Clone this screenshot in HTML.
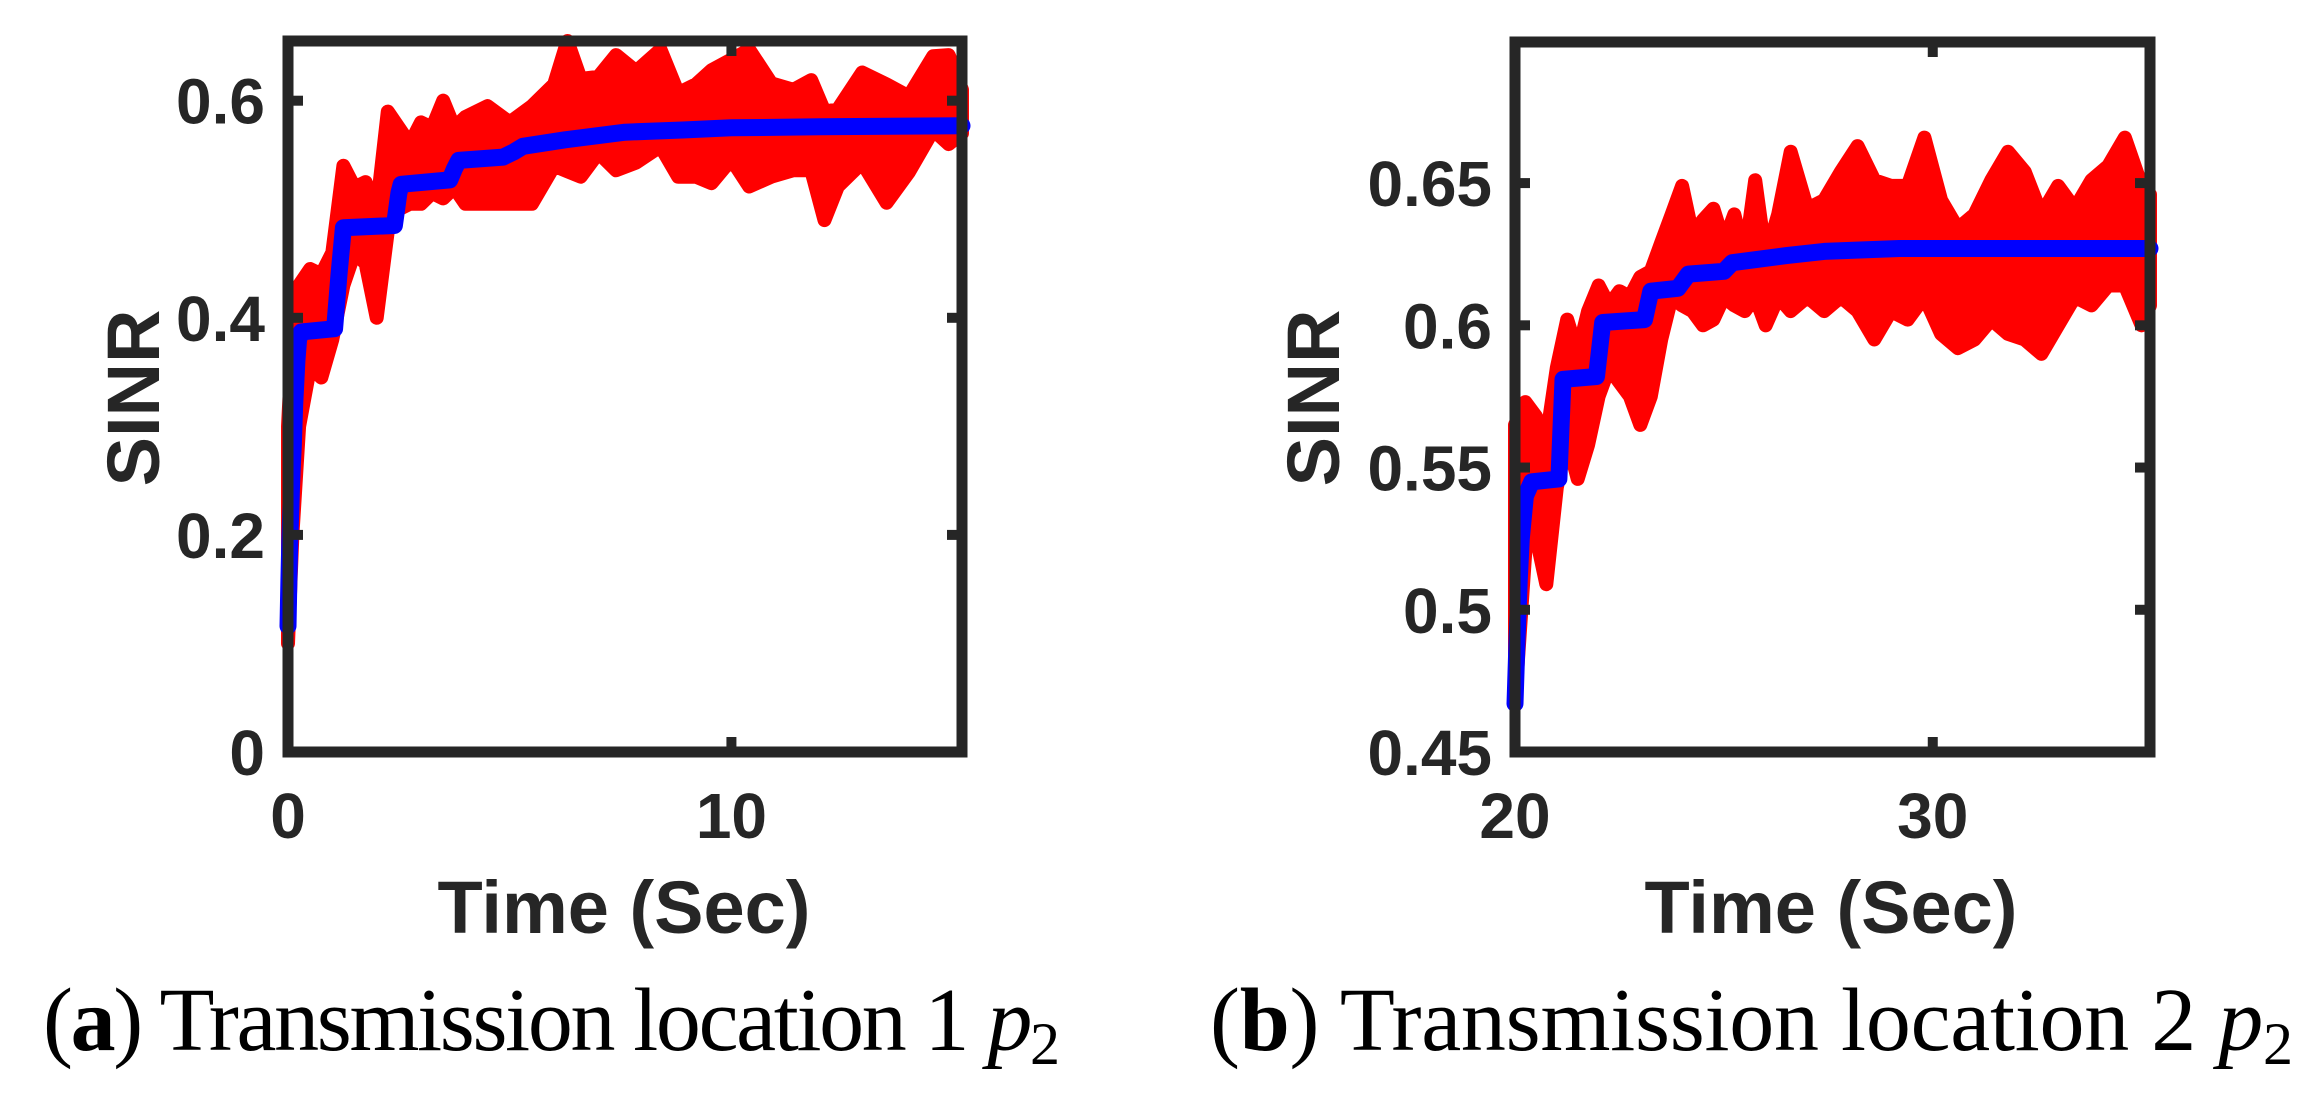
<!DOCTYPE html>
<html><head><meta charset="utf-8"><title>SINR over time</title>
<style>
html,body{margin:0;padding:0;background:#fff;}
svg{display:block;}
.tick{font-family:"Liberation Sans",sans-serif;font-weight:bold;font-size:64px;fill:#262626;}
.atitle{font-family:"Liberation Sans",sans-serif;font-weight:bold;font-size:74px;fill:#262626;}
.cap{font-family:"Liberation Serif",serif;font-size:90px;fill:#000;}
</style></head>
<body>
<svg id="fig" width="2320" height="1102" viewBox="0 0 2320 1102" xmlns="http://www.w3.org/2000/svg">
<g id="pa"></g>
<g id="pb"></g>
<text class="cap" x="43" y="1050" textLength="1017" lengthAdjust="spacing">(<tspan font-weight="bold">a</tspan>) Transmission location 1 <tspan font-style="italic">p</tspan><tspan font-size="60" dy="14">2</tspan></text>
<text class="cap" x="1210" y="1050" textLength="1083" lengthAdjust="spacing">(<tspan font-weight="bold">b</tspan>) Transmission location 2 <tspan font-style="italic">p</tspan><tspan font-size="60" dy="14">2</tspan></text>
</svg>
<script>
// ---------- Panel A data ----------
const aRedT  = [0,0.1,0.25,0.5,0.75,1.0,1.25,1.5,1.75,2.0,2.25,2.5,2.75,3.0,3.25,3.5,3.75,4.0,4.5,5.0,5.5,6.0,6.3,6.6,7.0,7.4,7.85,8.4,8.8,9.2,9.55,10.0,10.4,10.9,11.4,11.8,12.1,12.4,12.95,13.5,14.0,14.55,14.9,15.2];
const aRedHi = [0.30,0.38,0.43,0.445,0.44,0.46,0.54,0.52,0.525,0.50,0.59,0.575,0.56,0.58,0.575,0.60,0.575,0.585,0.595,0.58,0.595,0.615,0.655,0.62,0.622,0.642,0.627,0.647,0.607,0.615,0.628,0.638,0.647,0.616,0.610,0.619,0.590,0.592,0.626,0.615,0.604,0.641,0.642,0.61];
const aRedLo = [0.10,0.20,0.30,0.355,0.345,0.38,0.43,0.46,0.45,0.40,0.48,0.50,0.505,0.505,0.515,0.51,0.52,0.505,0.505,0.505,0.505,0.54,0.535,0.53,0.552,0.536,0.543,0.558,0.530,0.530,0.524,0.546,0.521,0.530,0.536,0.536,0.490,0.521,0.543,0.506,0.534,0.573,0.56,0.57];
const aBlueT = [0,0.02,0.04,0.06,0.08,0.1,0.12,0.15,0.2,0.24,0.3,1.05,1.15,1.25,2.4,2.5,2.55,3.65,3.75,3.85,4.85,5.1,5.3,6.25,7.6,8.9,10,12,15.2];
const aBlueV = [0.116,0.158,0.194,0.22,0.244,0.265,0.282,0.32,0.36,0.38,0.387,0.39,0.44,0.483,0.485,0.515,0.523,0.527,0.537,0.545,0.548,0.553,0.558,0.564,0.571,0.573,0.575,0.576,0.577];
const aYTicks = [0,0.2,0.4,0.6];
const aYLabels = ["0","0.2","0.4","0.6"];
const aXTicks = [0,10];
const aXLabels = ["0","10"];
// ---------- Panel B data ----------
const bRedT  = [20.0,20.25,20.5,20.75,21.0,21.25,21.5,21.75,22.0,22.25,22.5,22.75,23.0,23.25,23.5,23.75,24.0,24.25,24.5,24.75,25.0,25.25,25.5,25.75,26.0,26.3,26.6,27.0,27.4,27.8,28.2,28.6,29.0,29.4,29.8,30.2,30.6,31.0,31.4,31.8,32.2,32.6,33.0,33.4,33.8,34.2,34.6,35.0,35.2];
const bRedHi = [0.565,0.573,0.568,0.56,0.585,0.602,0.59,0.605,0.614,0.607,0.612,0.61,0.617,0.619,0.629,0.639,0.649,0.632,0.637,0.641,0.629,0.639,0.624,0.651,0.624,0.639,0.661,0.641,0.644,0.654,0.663,0.651,0.649,0.649,0.666,0.644,0.634,0.639,0.651,0.661,0.654,0.639,0.649,0.641,0.651,0.656,0.666,0.649,0.646];
const bRedLo = [0.467,0.521,0.526,0.509,0.543,0.56,0.546,0.558,0.575,0.585,0.58,0.575,0.565,0.575,0.595,0.61,0.607,0.605,0.60,0.602,0.61,0.607,0.605,0.61,0.60,0.61,0.605,0.61,0.605,0.61,0.605,0.595,0.605,0.602,0.61,0.597,0.592,0.595,0.602,0.597,0.595,0.59,0.60,0.61,0.607,0.614,0.614,0.60,0.607];
const bBlueT = [20.0,20.05,20.1,20.15,20.25,20.4,21.05,21.15,21.95,22.1,23.1,23.25,23.9,24.15,25.0,25.2,26.5,27.4,29.2,35.2];
const bBlueV = [0.467,0.49,0.51,0.525,0.54,0.545,0.546,0.581,0.582,0.601,0.602,0.612,0.613,0.618,0.619,0.622,0.6245,0.626,0.627,0.627];
const bYTicks = [0.45,0.5,0.55,0.6,0.65];
const bYLabels = ["0.45","0.5","0.55","0.6","0.65"];
const bXTicks = [20,30];
const bXLabels = ["20","30"];

const NS = "http://www.w3.org/2000/svg";
function mk(parent, tag, attrs){
  const e = document.createElementNS(NS, tag);
  for (const k in attrs) e.setAttribute(k, attrs[k]);
  parent.appendChild(e);
  return e;
}

function drawPanel(g, cfg){
  const L=cfg.left, R=cfg.right, T=cfg.top, B=cfg.bottom;
  const xs = v => L + (v - cfg.xmin) / (cfg.xmax - cfg.xmin) * (R - L);
  const ys = v => B - (v - cfg.ymin) / (cfg.ymax - cfg.ymin) * (B - T);

  let pts = [];
  for (let i=0;i<cfg.redT.length;i++) pts.push(xs(cfg.redT[i]).toFixed(1)+","+ys(cfg.redHi[i]).toFixed(1));
  for (let i=cfg.redT.length-1;i>=0;i--) pts.push(xs(cfg.redT[i]).toFixed(1)+","+ys(cfg.redLo[i]).toFixed(1));
  const red = mk(g,"polygon",{points:pts.join(" "),fill:"#ff0000",stroke:"#ff0000","stroke-width":"14","stroke-linejoin":"round"});
  
  

  let bp = [];
  for (let i=0;i<cfg.blueT.length;i++) bp.push(xs(cfg.blueT[i]).toFixed(1)+","+ys(cfg.blueV[i]).toFixed(1));
  const blue = mk(g,"polyline",{points:bp.join(" "),fill:"none",stroke:"#0000ff","stroke-width":"17","stroke-linejoin":"round","stroke-linecap":"round"});
  
  

  const box = mk(g,"rect",{x:L,y:T,width:R-L,height:B-T,fill:"none",stroke:"#262626","stroke-width":"11"});
  
  

  cfg.yTicks.forEach((v,i)=>{
    const y = ys(v);
    const t1 = mk(g,"line",{x1:L,x2:L+15,y1:y,y2:y,stroke:"#262626","stroke-width":"10"});
    
    
    const t2 = mk(g,"line",{x1:R,x2:R-15,y1:y,y2:y,stroke:"#262626","stroke-width":"10"});
    
    
    const lb = mk(g,"text",{x:cfg.yLabelX,y:y+23,"text-anchor":"end","class":"tick"});
    lb.textContent = cfg.yLabels[i];
    
    
  });
  cfg.xTicks.forEach((v,i)=>{
    const x = xs(v);
    const t1 = mk(g,"line",{x1:x,x2:x,y1:B,y2:B-15,stroke:"#262626","stroke-width":"10"});
    
    
    const t2 = mk(g,"line",{x1:x,x2:x,y1:T,y2:T+15,stroke:"#262626","stroke-width":"10"});
    
    
    const lb = mk(g,"text",{x:x,y:838,"text-anchor":"middle","class":"tick"});
    lb.textContent = cfg.xLabels[i];
    
    
  });
  const xt = mk(g,"text",{x:cfg.xTitleX,y:933,"text-anchor":"middle","class":"atitle"});
  xt.textContent = "Time (Sec)";
  
  
  const yt = mk(g,"text",{x:cfg.yTitleX,y:398,"text-anchor":"middle","class":"atitle",transform:"rotate(-90 "+cfg.yTitleX+" 398)"});
  yt.textContent = "SINR";
  
  
}

drawPanel(document.getElementById("pa"),{
  left:288,right:962,top:41,bottom:752,xmin:0,xmax:15.2,ymin:0,ymax:0.655,
  redT:aRedT,redHi:aRedHi,redLo:aRedLo,blueT:aBlueT,blueV:aBlueV,
  yTicks:aYTicks,yLabels:aYLabels,xTicks:aXTicks,xLabels:aXLabels,
  yLabelX:265,xTitleX:624,yTitleX:159
});
drawPanel(document.getElementById("pb"),{
  left:1515,right:2150,top:42,bottom:752,xmin:20,xmax:35.2,ymin:0.45,ymax:0.6996,
  redT:bRedT,redHi:bRedHi,redLo:bRedLo,blueT:bBlueT,blueV:bBlueV,
  yTicks:bYTicks,yLabels:bYLabels,xTicks:bXTicks,xLabels:bXLabels,
  yLabelX:1492,xTitleX:1831,yTitleX:1339
});
</script>
</body></html>
